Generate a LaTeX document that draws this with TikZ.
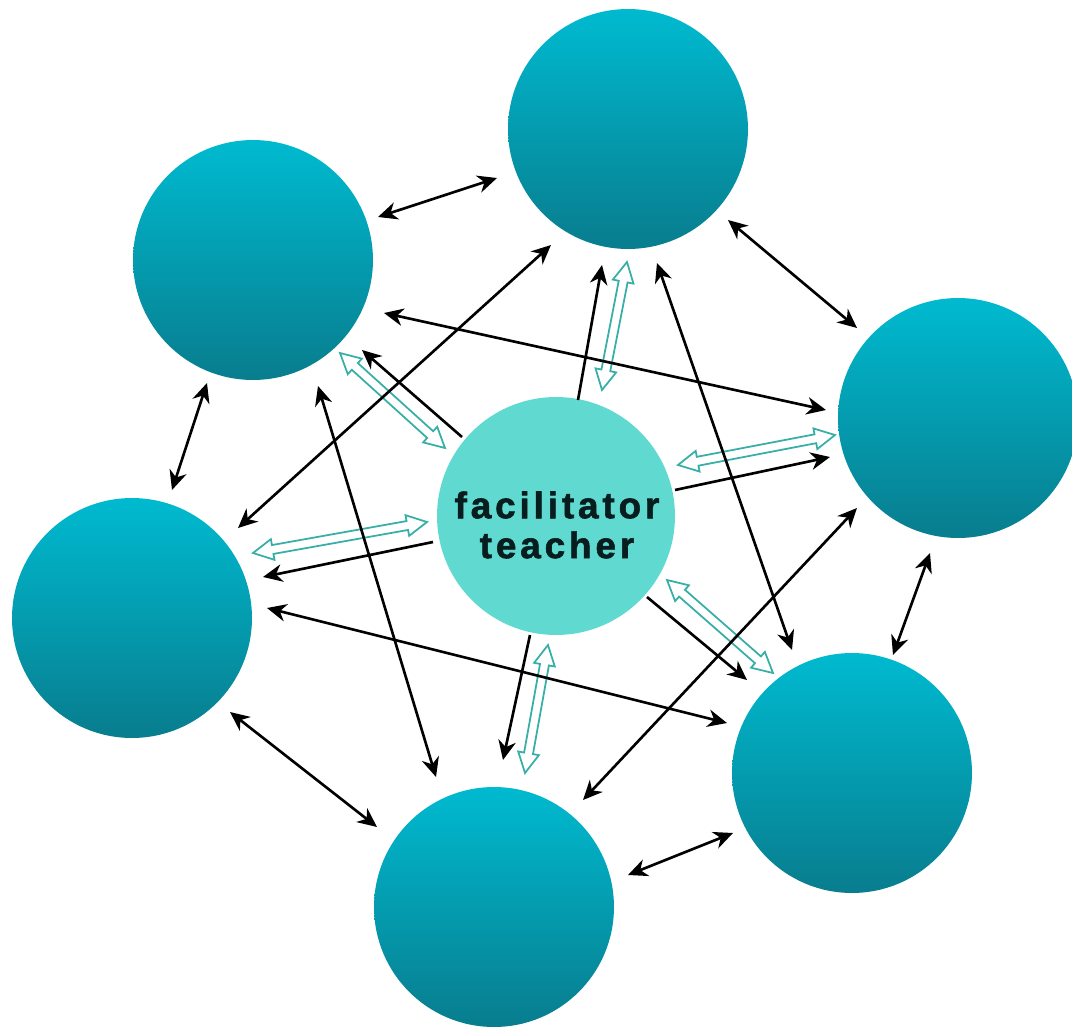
\documentclass[tikz,border=0pt]{standalone}
\usepackage{fontspec}
\setmainfont{Liberation Sans}
\newfontfamily\lblfont[LetterSpace=10.5,FakeBold=1.6]{Liberation Sans}
\usetikzlibrary{arrows.meta,calc}
\definecolor{ctop}{RGB}{0,186,208}
\definecolor{cbot}{RGB}{8,125,142}
\definecolor{cctr}{RGB}{96,217,208}
\definecolor{ctxt}{RGB}{8,30,30}
\definecolor{tealline}{RGB}{55,175,166}
\newcommand{\hollowarrow}[2]{%
  \coordinate (#1-h) at ($(#1)!0.4cm!(#2)$);
  \coordinate (#2-h) at ($(#2)!0.4cm!(#1)$);
  \draw[tealarw] (#1) -- ($(#1-h)!0.21cm!-90:(#2)$) -- ($(#1-h)!0.09cm!-90:(#2)$)
    -- ($(#2-h)!0.09cm!90:(#1)$) -- ($(#2-h)!0.21cm!90:(#1)$) -- (#2)
    -- ($(#2-h)!0.21cm!-90:(#1)$) -- ($(#2-h)!0.09cm!-90:(#1)$)
    -- ($(#1-h)!0.09cm!90:(#2)$) -- ($(#1-h)!0.21cm!90:(#2)$) -- cycle;}
\begin{document}
\begin{tikzpicture}[x=0.02cm,y=-0.02cm,
  outer/.style={circle, minimum size=4.8cm, inner sep=0pt, top color=ctop, bottom color=cbot, draw=none},
  ctr/.style={circle, minimum size=4.76cm, inner sep=0pt, fill=cctr},
  lbl/.style={align=center, text=ctxt, inner sep=0pt,
    font=\lblfont\bfseries\fontsize{21}{22.7}\selectfont},
  tealarw/.style={draw=tealline, fill=white, line width=1pt, line join=miter},
  blk/.style={line width=1.5pt, black},
  tip/.tip={Stealth[length=11pt,width=10pt,inset=3.5pt]},
  both/.style={blk, tip-tip},
  one/.style={blk, -tip}]
\useasboundingbox (0,0) rectangle (1072,1028);
\node[outer] (t)  at (628,129) {};
\node[outer] (ul) at (253,260) {};
\node[outer] (r)  at (958,418) {};
\node[outer] (l)  at (132,618) {};
\node[outer] (lr) at (852,773) {};
\node[outer] (b)  at (494,907) {};
\node[ctr] (c) at (556,516) {};
\node[lbl] (txt) at (557,525) {facilitator\\teacher};
% hollow teal double arrows
\coordinate (hu1) at ([shift={(87,93)}]ul.center);
\coordinate (hu2) at ([shift={(-111,-68)}]c.center);
\hollowarrow{hu1}{hu2}
\coordinate (ht1) at ([shift={(-1,133)}]t.center);
\coordinate (ht2) at ([shift={(46,-126)}]c.center);
\hollowarrow{ht1}{ht2}
\coordinate (hr1) at ([shift={(-123,17)}]r.center);
\coordinate (hr2) at ([shift={(122,-51)}]c.center);
\hollowarrow{hr1}{hr2}
\coordinate (hlr1) at ([shift={(-79,-100)}]lr.center);
\coordinate (hlr2) at ([shift={(111,64)}]c.center);
\hollowarrow{hlr1}{hlr2}
\coordinate (hb1) at ([shift={(31,-134)}]b.center);
\coordinate (hb2) at ([shift={(-8,129)}]c.center);
\hollowarrow{hb1}{hb2}
\coordinate (hl1) at ([shift={(121,-65)}]l.center);
\coordinate (hl2) at ([shift={(-129,6)}]c.center);
\hollowarrow{hl1}{hl2}
% outer ring
\draw[both] ([shift={(125,-43)}]ul.center) -- ([shift={(-131,49)}]t.center);
\draw[both] ([shift={(100,91)}]t.center) -- ([shift={(-101,-90)}]r.center);
\draw[both] ([shift={(-28,135)}]r.center) -- ([shift={(41,-118)}]lr.center);
\draw[both] ([shift={(-119,60)}]lr.center) -- ([shift={(134,-32)}]b.center);
\draw[both] ([shift={(-117,-80)}]b.center) -- ([shift={(98,94)}]l.center);
\draw[both] ([shift={(40,-128)}]l.center) -- ([shift={(-46,123)}]ul.center);
% cross connections
\draw[both] ([shift={(106,-90)}]l.center) -- ([shift={(-77,116)}]t.center);
\draw[both] ([shift={(131,53)}]ul.center) -- ([shift={(-132,-8)}]r.center);
\draw[both] ([shift={(29,134)}]t.center) -- ([shift={(-60,-123)}]lr.center);
\draw[both] ([shift={(-101,90)}]r.center) -- ([shift={(89,-107)}]b.center);
\draw[both] ([shift={(-125,-50)}]lr.center) -- ([shift={(135,-10)}]l.center);
\draw[both] ([shift={(65,126)}]ul.center) -- ([shift={(-58,-130)}]b.center);
% spokes from centre
\draw[one] ([shift={(22,-116)}]c.center) -- ([shift={(-26,136)}]t.center);
\draw[one] ([shift={(-94,-79)}]c.center) -- ([shift={(109,90)}]ul.center);
\draw[one] ([shift={(119,-26)}]c.center) -- ([shift={(-128,39)}]r.center);
\draw[one] ([shift={(91,81)}]c.center) -- ([shift={(-105,-93)}]lr.center);
\draw[one] ([shift={(-26,119)}]c.center) -- ([shift={(9,-147)}]b.center);
\draw[one] ([shift={(-123,26)}]c.center) -- ([shift={(131,-41)}]l.center);
\end{tikzpicture}
\end{document}
